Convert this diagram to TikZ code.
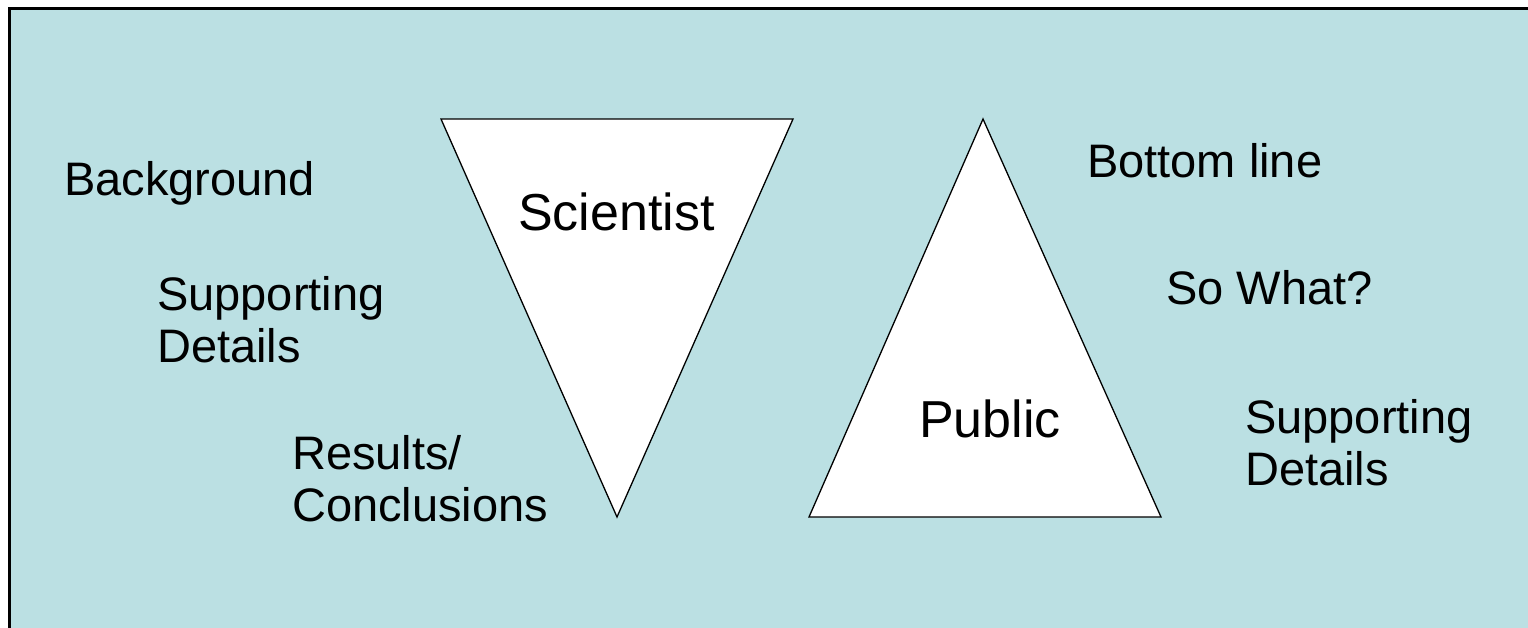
\documentclass[tikz,border=0pt]{standalone}
\usepackage{fontspec}
\setmainfont{Liberation Sans}
\begin{document}
\begin{tikzpicture}[x=1pt,y=-1pt,
  label/.style={anchor=base west,inner sep=0pt,align=left,
    font=\fontsize{47}{52}\selectfont},
  title/.style={anchor=base west,inner sep=0pt,
    font=\fontsize{52}{60}\selectfont},
  funnel/.style={draw=black,fill=white,line width=1.3pt,line join=miter}]
\definecolor{slidebg}{RGB}{187,224,227}
\useasboundingbox (0,0) rectangle (1528,627);
% slide background with its top and left frame
\fill[slidebg] (9,8) rectangle (1530,630);
\draw[line width=3pt] (9,640) -- (9,8) -- (1535,8);
% inverted triangle: scientist order
\coordinate (sa) at (441,119);
\coordinate (sb) at (793,119);
\coordinate (sc) at (617,517);
\draw[funnel] (sa) -- (sb) -- (sc) -- cycle;
% upright triangle: public order
\coordinate (pa) at (983,119);
\coordinate (pb) at (1161,517);
\coordinate (pc) at (809,517);
\draw[funnel] (pa) -- (pb) -- (pc) -- cycle;
\node[title] (sci) at (518,230) {Scientist};
\node[title] (pub) at (919,437) {Public};
% left column (two-line labels are placed by their last baseline)
\node[label] (bg) at (64,195) {Background};
\node[label] (sd1) at (157,362) {Supporting\\Details};
\node[label] (rc) at (292,521) {Results/\\Conclusions};
% right column
\node[label] (bl) at (1087,177) {Bottom line};
\node[label] (sw) at (1166,304) {So What?};
\node[label] (sd2) at (1245,485) {Supporting\\Details};
\end{tikzpicture}
\end{document}
